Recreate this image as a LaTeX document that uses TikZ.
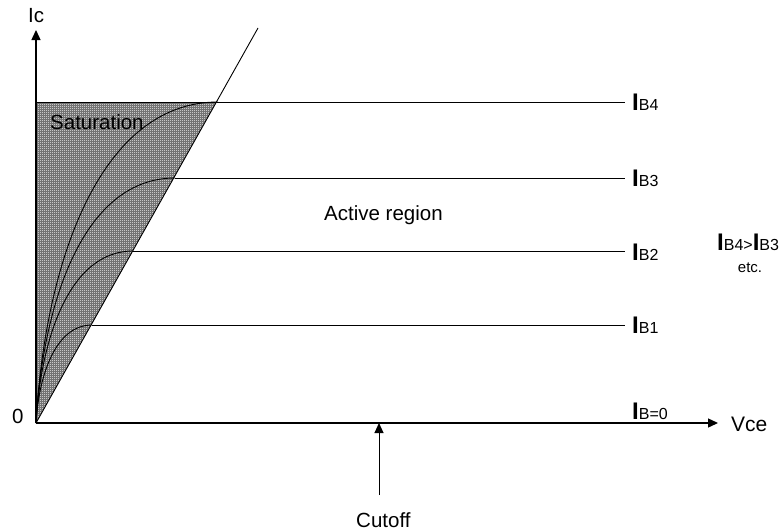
\documentclass[tikz,border=0pt]{standalone}
\usepackage{fontspec}
\setmainfont{Liberation Sans}
\usetikzlibrary{arrows.meta}
\newcommand\bigI{{\fontsize{24}{24}\selectfont\bfseries I}}
\newcommand\IBlab[1]{\bigI{\fontsize{16}{16}\selectfont #1}}
\begin{document}
\begin{tikzpicture}[x=1pt,y=-1pt,
  txt/.style={font=\fontsize{20.5}{24}\selectfont, inner sep=0pt, anchor=base west},
  iblab/.style={inner sep=0pt, anchor=base west},
  axis/.style={line width=1.3pt, -{Triangle[length=10pt,width=9pt]}},
  thin/.style={line width=0.9pt},
  curve/.style={line width=0.9pt},
  sat/.style={fill=black!22},
  gridln/.style={line width=0.45pt, draw=black!55}]
\useasboundingbox (0,0) rectangle (783,530);
% key points
\coordinate (O) at (36,423);
\coordinate (Ytop) at (36,30);
\coordinate (Xend) at (718,423);
\coordinate (Dtop) at (258,28);
\coordinate (S4) at (216.4,102);
\coordinate (P4) at (218,102);
\coordinate (P3) at (175,178);
\coordinate (P2) at (133,251);
\coordinate (P1) at (92,325);
\coordinate (E4) at (625,102);
\coordinate (E3) at (625,178);
\coordinate (E2) at (625,251);
\coordinate (E1) at (625,325);
\coordinate (Y4) at (36,102);
\coordinate (Cbot) at (379,495);
\coordinate (Cax) at (379,423);
% saturation region with fine grid texture
\fill[sat] (O) -- (Y4) -- (S4) -- cycle;
\begin{scope}
  \clip (O) -- (Y4) -- (S4) -- cycle;
  \foreach \gx in {37,39,...,217} {\draw[gridln] (\gx,100) -- (\gx,424);}
  \foreach \gy in {103,105,...,423} {\draw[gridln] (35,\gy) -- (218,\gy);}
\end{scope}
% diagonal
\draw[thin] (O) -- (Dtop);
% horizontal characteristic lines
\draw[thin] (Y4) -- (E4);
\draw[thin] (P3) -- (E3);
\draw[thin] (P2) -- (E2);
\draw[thin] (P1) -- (E1);
% curves
\draw[curve] (O) .. controls (45,262) and (100,102) .. (P4);
\draw[curve] (O) .. controls (43,301) and (84,178) .. (P3);
\draw[curve] (O) .. controls (41,337) and (70,251) .. (P2);
\draw[curve] (O) .. controls (39,374) and (56,325) .. (P1);
% axes
\draw[axis] (O) -- (Ytop);
\draw[axis] (O) -- (Xend);
\draw[line width=1pt, -{Triangle[length=10pt,width=9pt]}] (Cbot) -- (Cax);
% labels
\node[txt] (ic) at (28,22) {Ic};
\node[txt] (zero) at (12,423) {0};
\node[txt] (satl) at (50,129) {Saturation};
\node[txt] (act) at (324,220) {Active region};
\node[txt] (cut) at (356,527) {Cutoff};
\node[txt, font=\fontsize{21}{24}\selectfont] (vce) at (731,431) {Vce};
\node[iblab] (ib4) at (632,110) {\IBlab{B4}};
\node[iblab] (ib3) at (632,186) {\IBlab{B3}};
\node[iblab] (ib2) at (632,260) {\IBlab{B2}};
\node[iblab] (ib1) at (632,333) {\IBlab{B1}};
\node[iblab] (ib0) at (632,419) {\IBlab{B=0}};
\node[iblab] (cmp) at (717,250) {\IBlab{B4>}\IBlab{B3}};
\node[inner sep=0pt, anchor=base, font=\fontsize{15}{16}\selectfont] (etc) at (750,272) {etc.};
\end{tikzpicture}
\end{document}
